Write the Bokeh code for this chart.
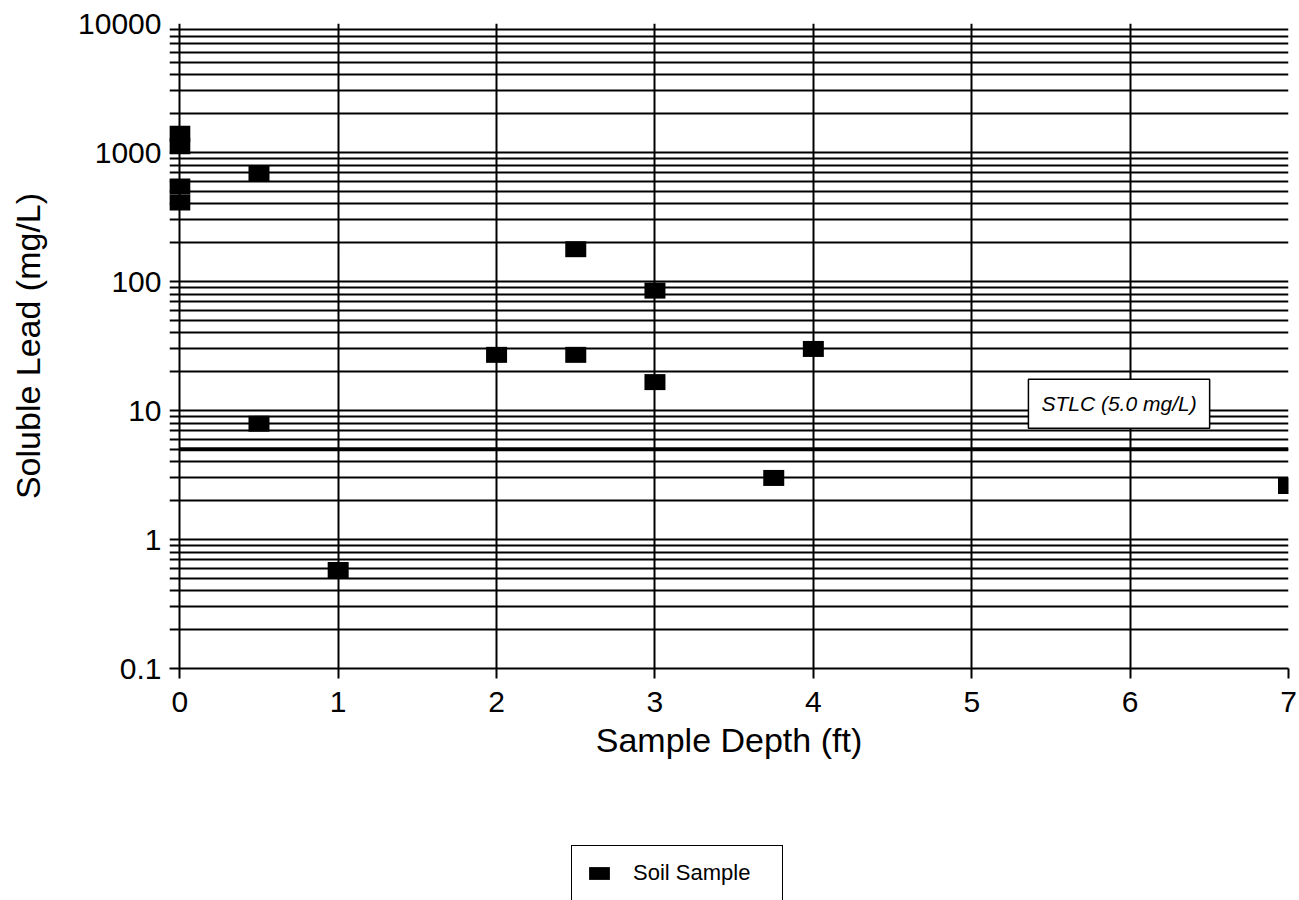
from bokeh.plotting import figure
from bokeh.layouts import column
from bokeh.models import (Range1d, FixedTicker, CustomJSTickFormatter, Label,
                          Legend, LegendItem)
from bokeh.embed import file_html
from bokeh.resources import INLINE

# ---- data ----
depth_ft = [0, 0, 0, 0, 0.5, 0.5, 1, 2, 2.5, 2.5, 3, 3, 3.75, 4, 7]
lead_mg_l = [1400, 1120, 545, 410, 680, 7.9, 0.58, 27, 178, 27, 85, 16.6, 3.0, 30, 2.6]
stlc_mg_l = 5.0
stlc_text = "STLC (5.0 mg/L)"
series_name = "Soil Sample"
x_ticks = [0, 1, 2, 3, 4, 5, 6, 7]
y_ticks = [0.1, 1, 10, 100, 1000, 10000]
y_tick_labels = ["0.1", "1", "10", "100", "1000", "10000"]
y_minor_ticks = [m * d for d in [0.1, 1, 10, 100, 1000] for m in [2, 3, 4, 5, 6, 7, 8, 9]]
x_label = "Sample Depth (ft)"
y_label = "Soluble Lead (mg/L)"

FONT = "Liberation Sans"

p = figure(width=1299, height=845,
           x_range=Range1d(-0.065, x_ticks[-1]),
           y_range=Range1d(y_ticks[0], y_ticks[-1]),
           y_axis_type="log",
           output_backend="svg", toolbar_location=None,
           min_border_left=169, min_border_right=11,
           min_border_top=23, min_border_bottom=177,
           background_fill_color="white", border_fill_color="white")
p.outline_line_color = None

xt = FixedTicker(ticks=x_ticks)
yt = FixedTicker(ticks=y_ticks, minor_ticks=y_minor_ticks)
p.xaxis.ticker = xt
p.yaxis.ticker = yt
p.xgrid.ticker = xt
p.ygrid.ticker = yt

p.yaxis.formatter = CustomJSTickFormatter(
    args=dict(major_vals=y_ticks, major_labels=y_tick_labels),
    code="""
    for (let i = 0; i < major_vals.length; i++) {
        if (Math.abs(Math.log10(tick) - Math.log10(major_vals[i])) < 1e-6) return major_labels[i];
    }
    return '';
    """)

# grid
p.xgrid.grid_line_color = "black"
p.xgrid.grid_line_width = 2
p.xgrid.grid_line_alpha = 1
p.ygrid.grid_line_color = "black"
p.ygrid.grid_line_width = 2
p.ygrid.grid_line_alpha = 1
p.ygrid.minor_grid_line_color = "black"
p.ygrid.minor_grid_line_width = 1.8
p.ygrid.minor_grid_line_alpha = 1

# x axis
p.xaxis.axis_line_color = "black"
p.xaxis.axis_line_width = 2
p.xaxis.major_tick_line_color = "black"
p.xaxis.major_tick_line_width = 2
p.xaxis.major_tick_out = 10
p.xaxis.major_tick_in = 0
p.xaxis.minor_tick_line_color = None
p.xaxis.major_label_standoff = 13
p.xaxis.major_label_text_font = FONT
p.xaxis.major_label_text_font_size = "30px"
p.xaxis.major_label_text_color = "black"
p.xaxis.axis_label = x_label
p.xaxis.axis_label_text_font = FONT
p.xaxis.axis_label_text_font_size = "34px"
p.xaxis.axis_label_text_font_style = "normal"
p.xaxis.axis_label_text_color = "black"
p.xaxis.axis_label_standoff = 6

# y axis
p.yaxis.axis_line_color = None
p.yaxis.major_tick_line_color = None
p.yaxis.minor_tick_line_color = None
p.yaxis.major_tick_out = 0
p.yaxis.major_label_standoff = 4
p.yaxis.major_label_text_font = FONT
p.yaxis.major_label_text_font_size = "30px"
p.yaxis.major_label_text_color = "black"
p.yaxis.axis_label = y_label
p.yaxis.axis_label_text_font = FONT
p.yaxis.axis_label_text_font_size = "34px"
p.yaxis.axis_label_text_font_style = "normal"
p.yaxis.axis_label_text_color = "black"
p.yaxis.axis_label_standoff = 28

# STLC threshold line
p.line(x=[x_ticks[0], x_ticks[-1]], y=[stlc_mg_l, stlc_mg_l],
       line_color="black", line_width=4)

# data markers
r = p.rect(x=depth_ft, y=lead_mg_l, width=21, height=16,
           width_units="screen", height_units="screen",
           fill_color="black", line_color=None)

lab = Label(x=5.93, y=11.3, text=stlc_text,
            text_font=FONT, text_font_style="italic", text_font_size="21px",
            text_color="black", text_align="center", text_baseline="middle",
            border_line_color="black", border_line_width=1.5,
            background_fill_color="white", padding=13)
p.add_layout(lab)

# ---- legend strip below the chart (legend outside the plot frame) ----
p2 = figure(width=1299, height=55, x_range=Range1d(-1, 0), y_range=Range1d(-1, 0),
            x_axis_location=None, y_axis_location=None,
            output_backend="svg", toolbar_location=None, min_border=0,
            background_fill_color="white", border_fill_color="white")
p2.outline_line_color = None
p2.grid.visible = False
# same marker style as the series; its single point lies outside this strip's view
r2 = p2.rect(x=depth_ft[:1], y=lead_mg_l[:1], width=21, height=16,
             width_units="screen", height_units="screen",
             fill_color="black", line_color=None)

legend = Legend(items=[LegendItem(label=series_name, renderers=[r2])],
                location=(402, -1), padding=14, margin=0,
                glyph_width=26, glyph_height=16, label_standoff=21,
                label_width=135,
                label_text_font=FONT, label_text_font_size="22px",
                label_text_color="black",
                border_line_color="black", border_line_width=1.5,
                border_line_alpha=1,
                background_fill_color="white", background_fill_alpha=1)
p2.add_layout(legend)

open("out.html", "w").write(file_html(column(p, p2, spacing=0), INLINE))
